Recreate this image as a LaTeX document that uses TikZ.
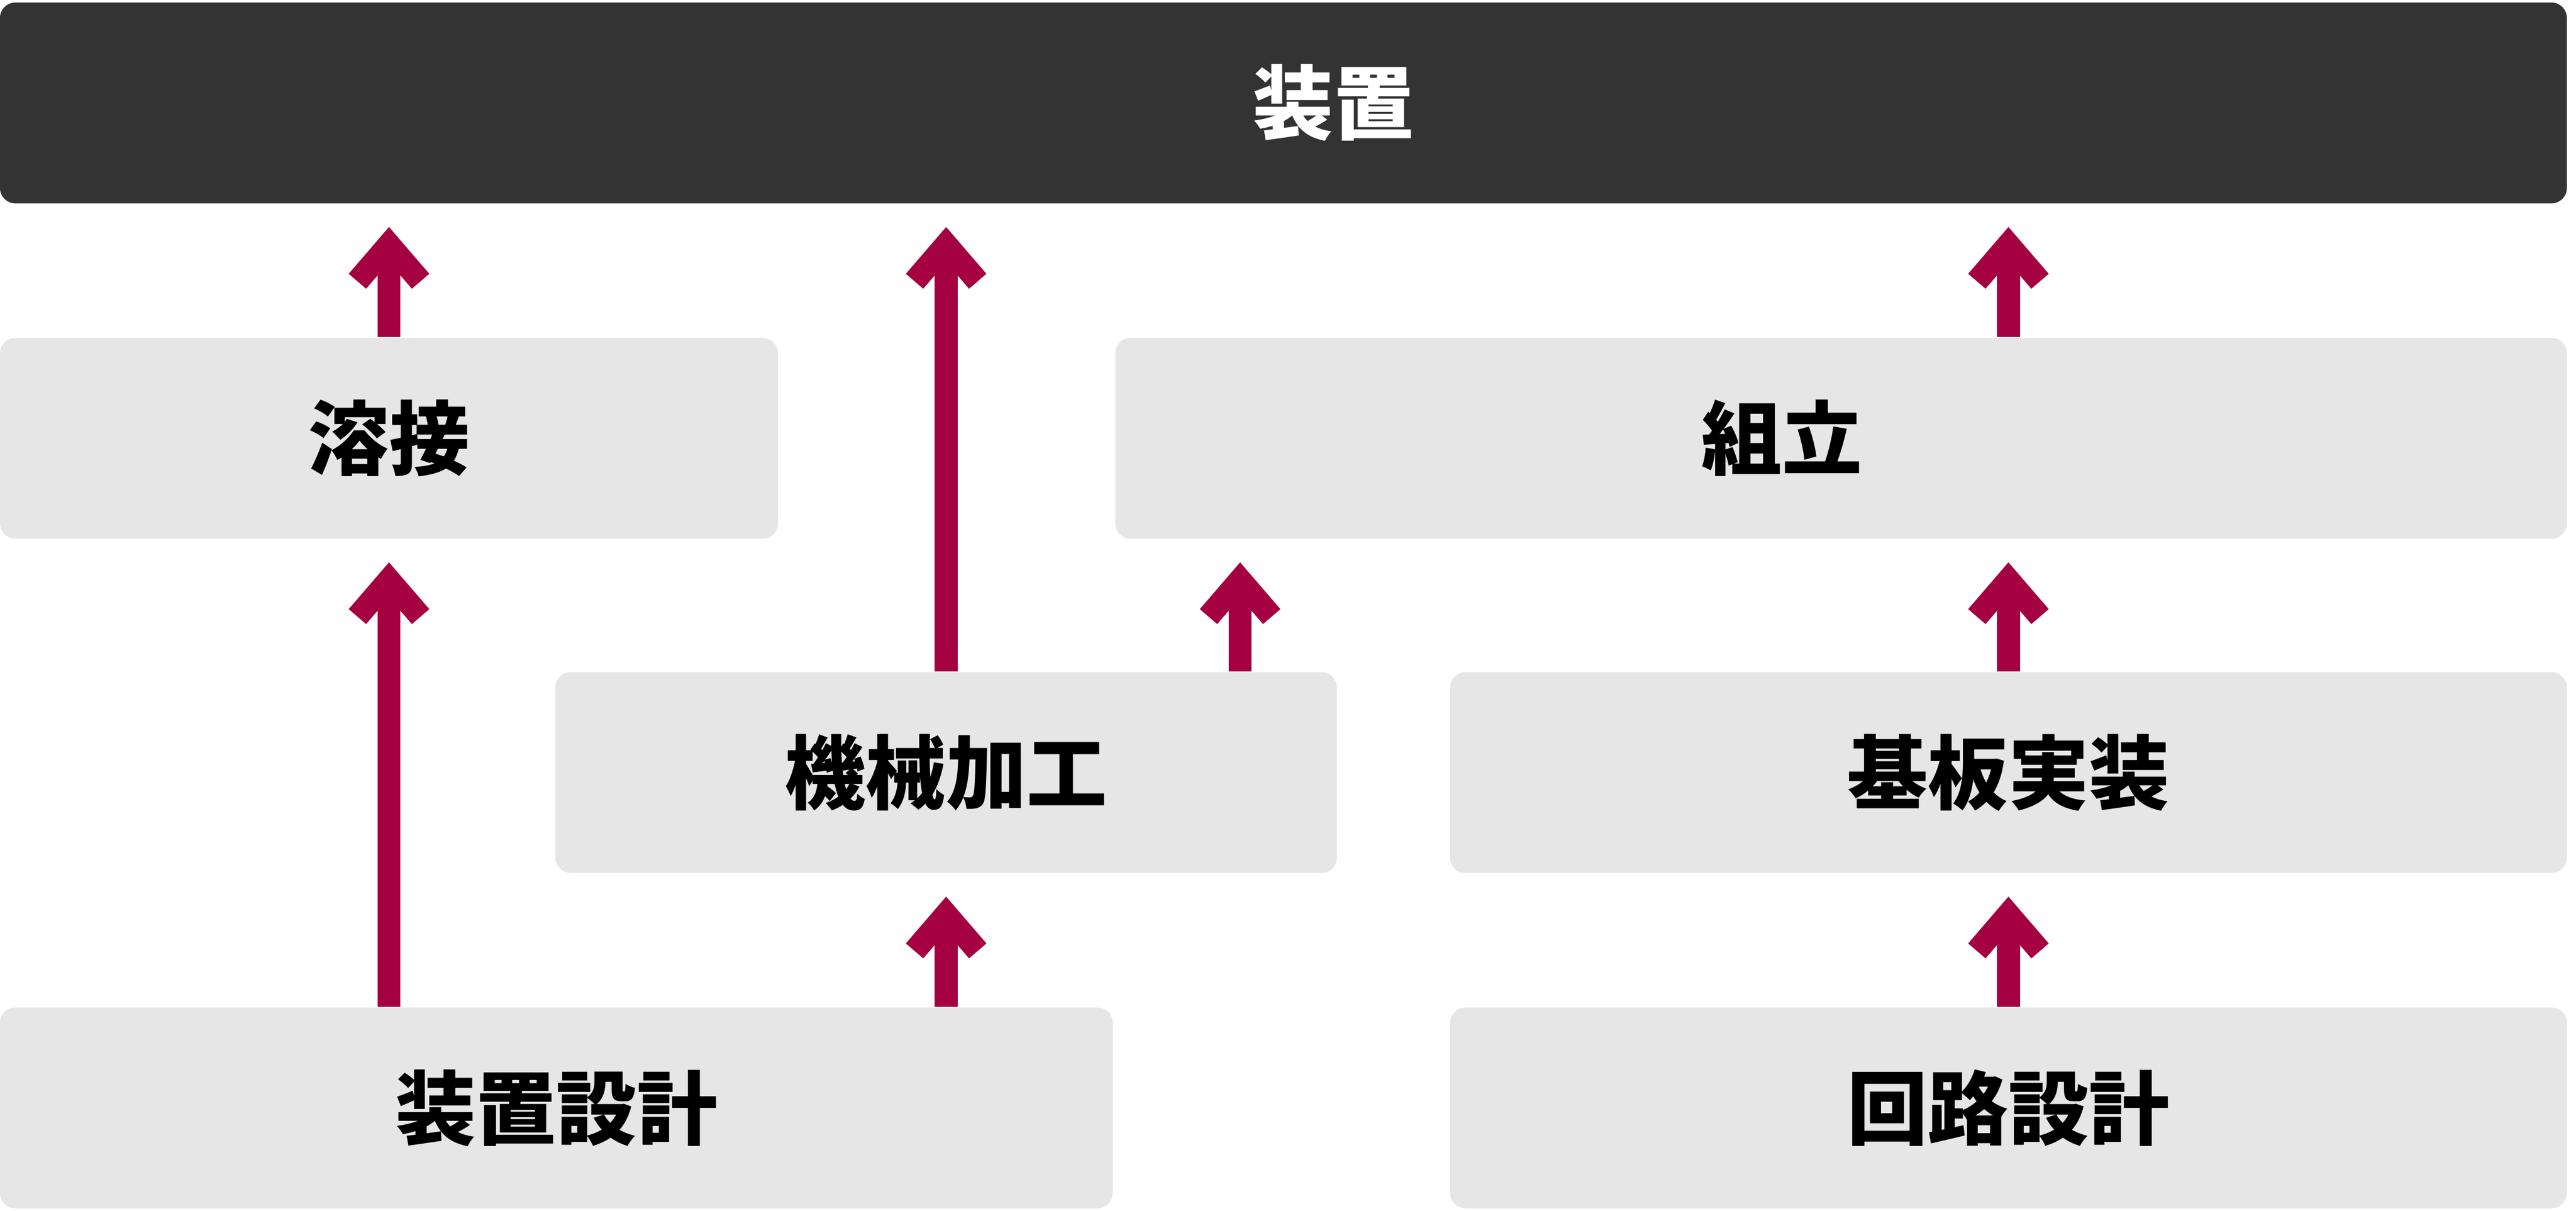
\documentclass[tikz,border=0pt]{standalone}
\usepackage{fontspec}
\newfontfamily\jpfont{Noto Sans CJK JP}
\usetikzlibrary{arrows.meta}
\definecolor{flowred}{HTML}{A50041}
\definecolor{topgray}{HTML}{333333}
\definecolor{boxgray}{HTML}{E6E6E6}
\tikzset{
  stage/.style={fill=boxgray, rounded corners=0.15cm, minimum height=1.97cm,
    inner sep=0pt, font=\jpfont\bfseries\fontsize{22.5}{26}\selectfont},
  flow/.style={draw=flowred, line width=0.225cm, shorten >=0.225cm,
    -{Straight Barb[length=0.36cm, width=0.62cm]}}
}
\begin{document}
\begin{tikzpicture}
    \useasboundingbox (0,0) rectangle (25.28,-11.88);

    % Product (dark bar)
    \node[stage, fill=topgray, text=white, minimum width=25.19cm,
      label={[xshift=0.49cm, text=white, font=\jpfont\bfseries\fontsize{22.5}{26}\selectfont]center:装置}]
      (souchi) at (12.595,-1.01) {};

    % Row 1
    \node[stage, minimum width=7.635cm] (yousetsu) at (3.8175,-4.30) {溶接};
    \node[stage, minimum width=14.245cm,
      label={[xshift=-0.58cm, font=\jpfont\bfseries\fontsize{22.5}{26}\selectfont]center:組立}]
      (kumitate) at (18.0675,-4.30) {};

    % Row 2
    \node[stage, minimum width=7.67cm] (kikai) at (9.285,-7.58) {機械加工};
    \node[stage, minimum width=10.96cm] (kiban) at (19.71,-7.58) {基板実装};

    % Row 3 (design)
    \node[stage, minimum width=10.92cm] (sekkei) at (5.46,-10.87) {装置設計};
    \node[stage, minimum width=10.96cm] (kairo) at (19.71,-10.87) {回路設計};

    % Arrows
    \draw[flow] (yousetsu.north) -- (yousetsu.north |- souchi.south);
    \draw[flow] (kikai.north) -- (kikai.north |- souchi.south);
    \draw[flow] (kiban.north |- kumitate.north) -- (kiban.north |- souchi.south);
    \draw[flow] (yousetsu.south |- sekkei.north) -- (yousetsu.south);
    \draw[flow] ([xshift=2.885cm]kikai.north) -- ([xshift=2.885cm]kikai.north |- kumitate.south);
    \draw[flow] (kiban.north) -- (kiban.north |- kumitate.south);
    \draw[flow] (kikai.south |- sekkei.north) -- (kikai.south);
    \draw[flow] (kairo.north) -- (kiban.south);
\end{tikzpicture}
\end{document}
